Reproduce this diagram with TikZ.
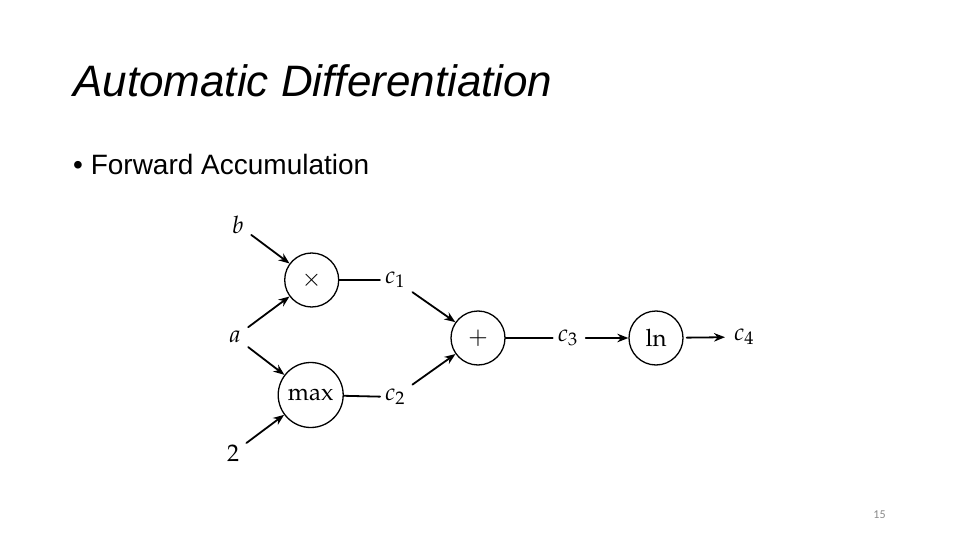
\documentclass[tikz,border=0pt]{standalone}
\usepackage{amsmath}
\usepackage[no-math]{fontspec}
\usepackage{mathpazo}
\usetikzlibrary{arrows.meta}
\usepackage{xcolor}
\newfontfamily\slidefont{Liberation Sans}
\newfontfamily\pagefont{Carlito}
\definecolor{slidegray}{RGB}{137,137,137}
\newcommand{\graphfontsize}{\fontsize{24}{28}\selectfont}
\tikzset{
  op node/.style={draw,circle,line width=1.3pt,minimum size=54pt,inner sep=0pt,font=\graphfontsize},
  var label/.style={inner sep=3pt,outer sep=2pt,font=\graphfontsize},
  flow/.style={line width=1.8pt,-{Stealth[length=11pt,width=8.5pt]},shorten <=3pt},
  wire/.style={line width=1.8pt}
}

\begin{document}
\begin{tikzpicture}[x=1pt,y=-1pt,line cap=round,line join=round]
  \useasboundingbox (0,0) rectangle (960,540);

  \node[anchor=base west,inner sep=0pt,font=\slidefont\itshape\fontsize{44}{52}\selectfont] (title) at (73,97) {Automatic Differentiation};
  \node[anchor=base west,inner sep=0pt,font=\slidefont\fontsize{28}{34}\selectfont] (bullet) at (73,175) {\textbullet\ Forward Accumulation};

  \node[op node] (mul) at (311.7,280) {$\times$};
  \node[op node,minimum size=65pt] (maxop) at (310.7,395) {$\max$};
  \node[op node] (plus) at (478,338) {$+$};
  \node[op node] (lnop) at (656,338) {$\ln$};

  \node[var label] (b) at (238,225) {$b$};
  \node[var label] (a) at (235,337) {$a$};
  \node[var label] (two) at (233,453) {$2$};
  \node[var label] (c1) at (395,280) {$c_1$};
  \node[var label] (c2) at (395,397) {$c_2$};
  \node[var label] (c3) at (567.7,338) {$c_3$};
  \node[var label] (c4) at (744,337) {$c_4$};

  \draw[flow] (b) -- (mul);
  \draw[flow] (a) -- (mul);
  \draw[flow] (a) -- (maxop);
  \draw[flow] (two) -- (maxop);
  \draw[wire] (mul) -- (c1);
  \draw[wire] (maxop) -- (c2);
  \draw[flow] (c1) -- (plus);
  \draw[flow] (c2) -- (plus);
  \draw[wire] (plus) -- (c3);
  \draw[flow] (c3) -- (lnop);
  \draw[flow,shorten >=4pt] (lnop) -- (c4);

  \node[text=slidegray,font=\pagefont\fontsize{12}{14}\selectfont] (pagenum) at (879.5,514.5) {15};
\end{tikzpicture}
\end{document}
